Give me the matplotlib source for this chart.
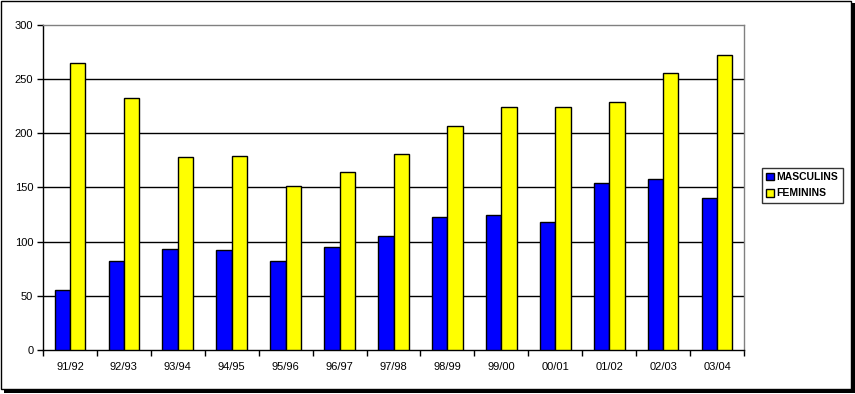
import numpy as np
import matplotlib
matplotlib.use('Agg')
import matplotlib.pyplot as plt
from matplotlib.patches import Rectangle

plt.rcParams['font.family'] = ['Liberation Sans', 'DejaVu Sans']

seasons = ['91/92', '92/93', '93/94', '94/95', '95/96', '96/97', '97/98',
           '98/99', '99/00', '00/01', '01/02', '02/03', '03/04']
masculins = [55, 82, 93, 92, 82, 95, 105, 123, 125, 118, 154, 158, 140]
feminins = [265, 233, 178, 179, 151, 164, 181, 207, 224, 224, 229, 256, 272]
yticks = [0, 50, 100, 150, 200, 250, 300]

W, H = 855, 394
fig = plt.figure(figsize=(W / 100, H / 100), dpi=100)

# outer frame with drop shadow
fig.patches.append(Rectangle((4 / W, 1 / H), (W - 4) / W, (H - 4) / H, transform=fig.transFigure,
                             facecolor='black', edgecolor='none', zorder=0))
fig.patches.append(Rectangle((0.5 / W, 5 / H), (W - 4.5) / W, (H - 5.5) / H, transform=fig.transFigure,
                             facecolor='white', edgecolor='black', linewidth=1, zorder=1))

ax = fig.add_axes([43 / W, (H - 350) / H, 701 / W, 325 / H])
ax.set_zorder(2)

x = np.arange(len(seasons))
w = 0.285
ax.bar(x - w / 2, masculins, w, color='#0000ff', edgecolor='black', linewidth=1, label='MASCULINS', zorder=3)
ax.bar(x + w / 2, feminins, w, color='#ffff00', edgecolor='black', linewidth=1, label='FEMININS', zorder=3)

ax.set_xlim(-0.5, len(seasons) - 0.5)
ax.set_ylim(0, 300)
ax.set_yticks(yticks)
for v in yticks[1:-1]:
    ax.axhline(v, color='black', linewidth=1, zorder=1)

ax.set_xticks(x)
ax.set_xticklabels(seasons, fontsize=8)
ax.set_xticks(np.arange(len(seasons) + 1) - 0.5, minor=True)
ax.tick_params(axis='x', which='major', length=0, pad=9)
ax.tick_params(axis='x', which='minor', length=4, width=1, direction='out')
ax.tick_params(axis='y', length=4, width=1, direction='out', labelsize=8, pad=3)

for s in ['top', 'right']:
    ax.spines[s].set_color('#808080')
    ax.spines[s].set_linewidth(1)
for s in ['left', 'bottom']:
    ax.spines[s].set_color('black')
    ax.spines[s].set_linewidth(1)

leg = fig.legend(loc='upper left', bbox_to_anchor=(762 / W, 1 - 168 / H), frameon=True,
                 fancybox=False, edgecolor='black', prop={'weight': 'bold', 'size': 7.5},
                 handlelength=0.75, handleheight=0.75, handletextpad=0.25, borderpad=0.4,
                 labelspacing=0.6, borderaxespad=0)
leg.get_frame().set_linewidth(1)
leg.set_zorder(5)

fig.savefig('out.png', dpi=100)
